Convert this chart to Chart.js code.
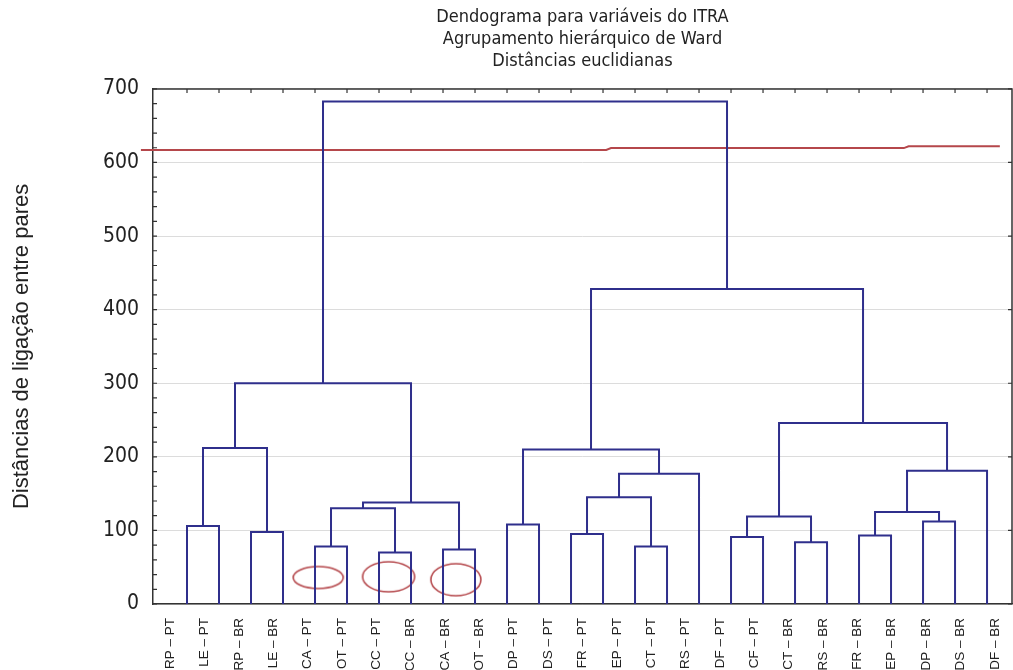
<!DOCTYPE html>
<html>
<head>
<meta charset="utf-8">
<script src="https://cdn.jsdelivr.net/npm/chart.js@4.4.0/dist/chart.umd.min.js"></script>
<style>
  html, body { margin: 0; padding: 0; background: #fff; }
  #wrap { width: 1013px; height: 670px; }
</style>
</head>
<body>
<div id="wrap"><canvas id="dendro"></canvas></div>
<script>
// labels under the axis (25 names, spread over the whole axis)
const varLabels = [
  "RP – PT", "LE – PT", "RP – BR", "LE – BR", "CA – PT", "OT – PT", "CC – PT",
  "CC – BR", "CA – BR", "OT – BR", "DP – PT", "DS – PT", "FR – PT", "EP – PT",
  "CT – PT", "RS – PT", "DF – PT", "CF – PT", "CT – BR", "RS – BR", "FR – BR",
  "EP – BR", "DP – BR", "DS – BR", "DF – BR"
];

// Ward merges: 0-25 are the leaves, 26+ are previous merges (row k -> node 26+k)
const leafCount = 26;
const mergeLeft   = [0, 2, 26, 4, 6, 29, 8, 31, 28, 10, 12, 14, 36, 38, 35, 17, 19, 41, 21, 23, 44, 46, 43, 40, 34];
const mergeRight  = [1, 3, 27, 5, 7, 30, 9, 32, 33, 11, 13, 15, 37, 16, 39, 18, 20, 42, 22, 24, 45, 25, 47, 48, 49];
const mergeHeight = [106, 98, 212, 78, 70, 130, 74, 138, 300, 108, 95, 78, 145, 177, 210, 91, 84, 119, 93, 112, 125, 181, 246, 428, 683];

// cut line (red)
const cutX = [-0.44, 14.1, 14.25, 23.4, 23.55, 26.4];
const cutY = [617, 617, 619.5, 619.5, 622, 622];

// red rings near the bottom
const ringX = [5.1, 7.3, 9.4];
const ringY = [36, 37, 33];

const yMax = 700;

// positions of every node
const nodeX = [];
const nodeH = [];
for (let i = 0; i < leafCount; i++) {
  nodeX.push(i + 1);
  nodeH.push(0);
}
const treeSets = [];
for (let k = 0; k < mergeHeight.length; k++) {
  const a = mergeLeft[k], b = mergeRight[k], h = mergeHeight[k];
  treeSets.push({
    data: [
      { x: nodeX[a], y: nodeH[a] },
      { x: nodeX[a], y: h },
      { x: nodeX[b], y: h },
      { x: nodeX[b], y: nodeH[b] }
    ],
    showLine: true,
    borderColor: "#2f2f8c",
    borderWidth: 2,
    pointRadius: 0,
    fill: false
  });
  nodeX.push((nodeX[a] + nodeX[b]) / 2);
  nodeH.push(h);
}

function makeRing(rx, ry) {
  const c = document.createElement("canvas");
  c.width = rx * 2 + 4;
  c.height = ry * 2 + 4;
  const g = c.getContext("2d");
  g.strokeStyle = "#b5484c";
  g.lineWidth = 1.6;
  g.beginPath();
  g.ellipse(c.width / 2, c.height / 2, rx, ry, 0, 0, Math.PI * 2);
  g.stroke();
  return c;
}
const ringStyles = [makeRing(25, 11), makeRing(26, 15), makeRing(25, 16)];

const narrow = "'Liberation Sans Narrow', 'DejaVu Sans Condensed', sans-serif";

// frame, inward ticks on top / left / right
const framePlugin = {
  id: "frame",
  afterDatasetsDraw(chart) {
    const ctx = chart.ctx;
    const a = chart.chartArea;
    const xs = chart.scales.x;
    const ys = chart.scales.y;
    ctx.save();
    ctx.strokeStyle = "#333";
    ctx.lineWidth = 1.5;
    ctx.beginPath();
    ctx.moveTo(a.left, a.top);
    ctx.lineTo(a.right, a.top);
    ctx.lineTo(a.right, a.bottom);
    ctx.stroke();
    ctx.lineWidth = 1.2;
    ctx.beginPath();
    for (let i = 0; i < leafCount; i++) {
      const px = xs.getPixelForValue(nodeX[i]);
      ctx.moveTo(px, a.top);
      ctx.lineTo(px, a.top + 4);
    }
    for (let v = 0; v <= yMax; v += 20) {
      const py = ys.getPixelForValue(v);
      ctx.moveTo(a.left, py);
      ctx.lineTo(a.left + 4, py);
      if (v % 100 === 0) {
        ctx.moveTo(a.right, py);
        ctx.lineTo(a.right - 4, py);
      }
    }
    ctx.stroke();
    ctx.restore();
  }
};

new Chart(document.getElementById("dendro"), {
  type: "scatter",
  data: {
    datasets: treeSets.concat([
      {
        data: cutX.map((x, i) => ({ x: x, y: cutY[i] })),
        showLine: true,
        borderColor: "#b5474b",
        borderWidth: 2,
        pointRadius: 0,
        clip: false
      },
      {
        data: ringX.map((x, i) => ({ x: x, y: ringY[i] })),
        pointStyle: ringStyles,
        pointRadius: 3,
        showLine: false
      }
    ])
  },
  options: {
    responsive: true,
    maintainAspectRatio: false,
    animation: false,
    events: [],
    layout: { padding: { right: 1 }, autoPadding: false },
    plugins: {
      legend: { display: false },
      tooltip: { enabled: false },
      title: {
        display: true,
        fullSize: false,
        text: ["Dendograma para variáveis do ITRA", "Agrupamento hierárquico de Ward", "Distâncias euclidianas"],
        color: "#222",
        font: { family: narrow, size: 18, weight: "normal", lineHeight: 1.22 },
        padding: { top: 6, bottom: 17 }
      }
    },
    scales: {
      x: {
        type: "linear",
        display: false,
        min: -0.0625,
        max: 26.78
      },
      x2: {
        type: "category",
        labels: varLabels,
        position: "bottom",
        offset: true,
        grid: { display: false },
        border: { color: "#333", width: 1.5 },
        ticks: {
          autoSkip: false,
          minRotation: 90,
          maxRotation: 90,
          padding: 6,
          color: "#222",
          font: { family: "'Liberation Sans', Arial, sans-serif", size: 13.5 }
        },
        afterFit(scale) {
          scale.height = 66;
          scale.paddingLeft = 0;
          scale.paddingRight = 0;
        }
      },
      y: {
        min: 0,
        max: yMax,
        ticks: {
          stepSize: 100,
          padding: 14,
          color: "#222",
          font: { family: narrow, size: 21 }
        },
        grid: { color: "#dcdcdc", drawTicks: false },
        border: { color: "#333", width: 1.5 },
        title: {
          display: true,
          text: "Distâncias de ligação entre pares",
          color: "#222",
          font: { family: "'Liberation Sans', Arial, sans-serif", size: 22 },
          padding: { top: 9, bottom: 0 }
        },
        afterFit(scale) { scale.width = 153; }
      }
    }
  },
  plugins: [framePlugin]
});
</script>
</body>
</html>
